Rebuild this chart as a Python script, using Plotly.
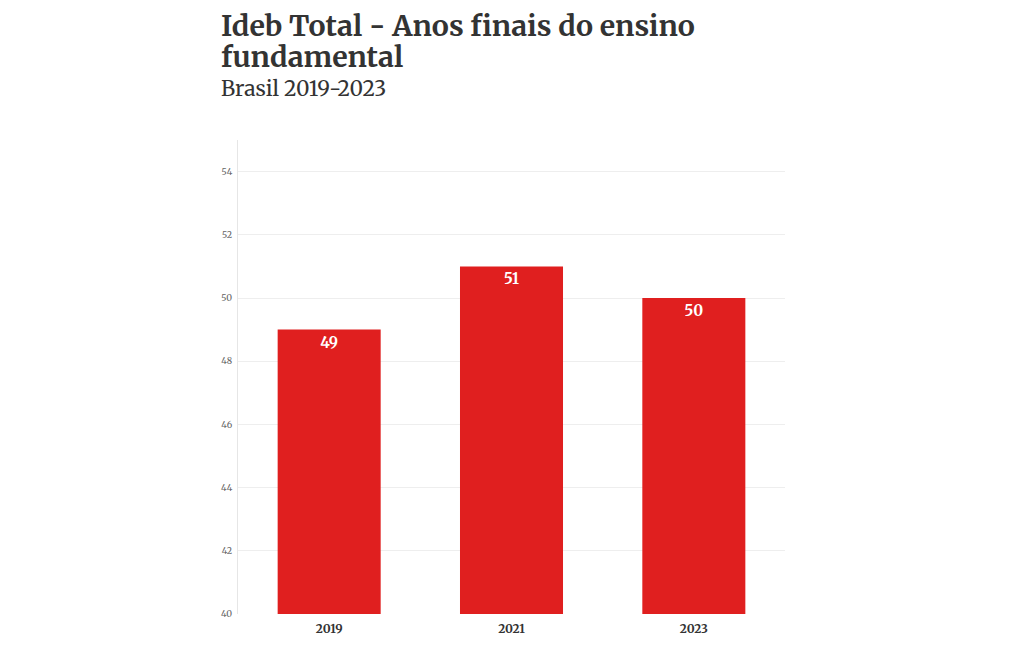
"""
Ideb Total - Anos finais do ensino fundamental (Brasil 2019-2023)
"""
import plotly.graph_objs as go

# dados
anos = ['2019', '2021', '2023']
ideb = [49, 51, 50]
y_ticks = [40, 42, 44, 46, 48, 50, 52, 54]

titulo_linhas = ['Ideb Total - Anos finais do ensino', 'fundamental']
subtitulo = 'Brasil 2019-2023'

SERIF = 'Merriweather, DejaVu Serif, serif'

# área do gráfico na janela (px): x 238..785, y 140..614
PX_L, PX_R, PX_T, PX_B = 238, 785, 140, 614


def px_x(x):
    return (x - PX_L) / (PX_R - PX_L)


def px_y(y):
    return (PX_B - y) / (PX_B - PX_T)


fig = go.Figure(go.Bar(
    x=anos,
    y=ideb,
    text=[str(v) for v in ideb],
    textposition='inside',
    insidetextanchor='end',
    textfont=dict(family=SERIF, size=15, color='white', weight='bold'),
    marker=dict(color='#e01f1f', line=dict(width=0)),
    hoverinfo='x+y'
))

anotacoes = []
for txt, ymid in zip(titulo_linhas, [26, 57]):
    anotacoes.append(dict(
        text=f'<b>{txt}</b>',
        xref='paper', yref='paper',
        x=px_x(219), xanchor='left',
        y=px_y(ymid), yanchor='middle',
        showarrow=False,
        font=dict(family=SERIF, size=28.5, color='#333333'),
    ))
anotacoes.append(dict(
    text=subtitulo,
    xref='paper', yref='paper',
    x=px_x(219), xanchor='left',
    y=px_y(88), yanchor='middle',
    showarrow=False,
    font=dict(family=SERIF, size=21, color='#333333'),
))

# o body da página tem margem de 8px
fig.update_layout(
    width=1012,
    height=642,
    margin=dict(l=230, r=235, t=132, b=36),
    paper_bgcolor='white',
    plot_bgcolor='white',
    bargap=0.435,
    showlegend=False,
    font=dict(family=SERIF, color='#333333'),
    annotations=anotacoes,
    xaxis=dict(
        type='category',
        showgrid=False,
        showline=False,
        ticks='',
        ticklabelstandoff=6,
        tickfont=dict(family=SERIF, size=12, color='#333333', weight='bold'),
    ),
    yaxis=dict(
        range=[40, 55],
        tickvals=y_ticks,
        showgrid=True,
        gridcolor='#eeeeee',
        gridwidth=1,
        showline=True,
        linecolor='#e6e6e6',
        linewidth=1,
        zeroline=False,
        ticks='',
        ticklabelstandoff=3,
        tickfont=dict(family=SERIF, size=9, color='#666666'),
    ),
)

fig.write_html('out.html')
